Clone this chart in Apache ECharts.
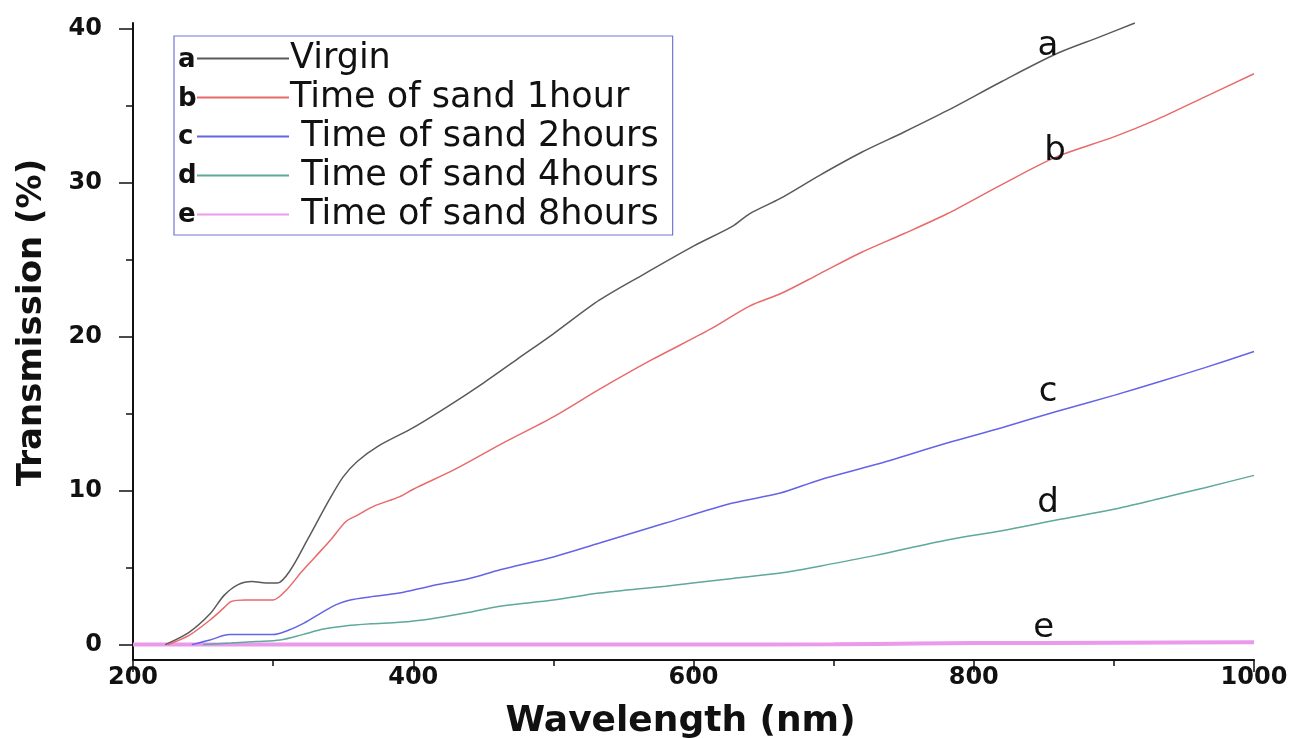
<!DOCTYPE html>
<html>
<head>
<meta charset="utf-8">
<script src="https://cdn.jsdelivr.net/npm/echarts@6/dist/echarts.min.js"></script>
<style>
  html, body { margin: 0; padding: 0; background: #fff; }
  #chart { width: 1292px; height: 738px; }
</style>
</head>
<body>
<div id="chart"></div>
<script>
// values
const waveA = [223, 240, 255, 265, 275, 285, 295, 303, 312, 325, 340, 350, 360, 375, 400, 425, 450, 475, 500, 533, 565, 600, 628, 640, 662, 690, 720, 750, 781, 820, 859, 890, 915];
const transA = [0, 0.8, 2.0, 3.2, 3.9, 4.1, 4.0, 4.0, 4.8, 6.9, 9.4, 10.9, 11.9, 12.9, 14.1, 15.5, 17.0, 18.6, 20.2, 22.4, 24.1, 25.9, 27.2, 28.0, 29.0, 30.5, 32.0, 33.3, 34.7, 36.6, 38.4, 39.5, 40.4];

const waveB = [225, 240, 255, 265, 270, 280, 290, 300, 310, 320, 330, 341, 352, 360, 372, 390, 400, 430, 462, 500, 533, 570, 612, 640, 662, 690, 720, 750, 781, 820, 859, 900, 930, 965, 1000];
const transB = [0, 0.6, 1.6, 2.4, 2.8, 2.9, 2.9, 2.9, 3.6, 4.7, 5.7, 6.8, 8.0, 8.4, 9.0, 9.6, 10.1, 11.4, 13.0, 14.8, 16.6, 18.5, 20.5, 22.0, 22.8, 24.1, 25.5, 26.7, 28.0, 29.9, 31.7, 33.0, 34.1, 35.6, 37.1];

const waveC = [242, 255, 269, 285, 300, 310, 322, 335, 345, 355, 369, 390, 412, 440, 462, 500, 533, 580, 628, 662, 690, 730, 781, 820, 859, 900, 933, 965, 1000];
const transC = [0, 0.3, 0.65, 0.65, 0.65, 0.9, 1.4, 2.1, 2.6, 2.9, 3.1, 3.35, 3.8, 4.3, 4.87, 5.7, 6.6, 7.9, 9.2, 9.85, 10.7, 11.7, 13.1, 14.1, 15.15, 16.2, 17.1, 18.0, 19.05];

const waveD = [250, 270, 288, 305, 321, 335, 350, 370, 390, 412, 440, 462, 500, 533, 580, 628, 662, 690, 730, 781, 820, 859, 900, 933, 965, 1000];
const transD = [0, 0.1, 0.2, 0.3, 0.65, 1.0, 1.2, 1.35, 1.45, 1.67, 2.1, 2.5, 2.9, 3.35, 3.8, 4.3, 4.65, 5.1, 5.8, 6.8, 7.4, 8.1, 8.8, 9.5, 10.2, 11.0];

const waveE = [200, 300, 400, 500, 600, 700, 760, 800, 900, 1000];
const transE = [0, 0, 0, 0, 0, 0.02, 0.08, 0.1, 0.12, 0.15];

const seriesNames = ["Virgin", "Time of sand 1hour", "Time of sand 2hours", "Time of sand 4hours", "Time of sand 8hours"];
const letters = ["a", "b", "c", "d", "e"];
const colors = ["#5a5a5a", "#e86a6a", "#6464e6", "#5fa89a", "#eb9aeb"];
const widths = [1.5, 1.5, 1.5, 1.5, 4];
// where the curve letters sit (wavelength, transmission)
const letterAt = [[853, 38.9], [858, 32.1], [853, 16.4], [853, 9.2], [850, 1.1]];

const yMajor = [0, 10, 20, 30, 40];
const yMinor = [5, 15, 25, 35];

const waves = [waveA, waveB, waveC, waveD, waveE];
const trans = [transA, transB, transC, transD, transE];

const font = "DejaVu Sans";

let myChart = echarts.init(document.getElementById("chart"));

let series = seriesNames.map(function (name, i) {
  return {
    name: name,
    type: "line",
    symbol: "none",
    smooth: 0.3,
    data: waves[i].map(function (w, j) { return [w, trans[i][j]]; }),
    lineStyle: { color: colors[i], width: widths[i] },
    itemStyle: { color: colors[i] },
    z: i === 4 ? 1 : 2,
    markPoint: {
      symbol: "circle",
      symbolSize: 1,
      itemStyle: { color: "rgba(0,0,0,0)" },
      label: {
        show: true,
        position: "inside",
        formatter: letters[i],
        color: "#111",
        fontSize: 34,
        fontFamily: font,
      },
      data: [{ coord: letterAt[i] }],
    },
  };
});

let option = {
  animation: false,
  backgroundColor: "#fff",
  grid: { left: 133, right: 38, top: 23, bottom: 78, outerBoundsMode: "none" },
  xAxis: {
    type: "value",
    min: 200,
    max: 1000,
    interval: 200,
    name: "Wavelength (nm)",
    nameLocation: "middle",
    nameGap: 44,
    nameTextStyle: {
      fontFamily: font,
      fontWeight: "bold",
      fontSize: 36,
      color: "#111",
      padding: [0, 26, 0, 0],
    },
    axisLine: { onZero: false, lineStyle: { color: "#111", width: 2 } },
    axisTick: { length: 12, lineStyle: { color: "#111", width: 1.5 } },
    minorTick: { show: true, splitNumber: 2, length: 6, lineStyle: { color: "#111", width: 1.5 } },
    axisLabel: {
      fontFamily: font, fontWeight: "bold", fontSize: 24, color: "#111", margin: 6,
      formatter: function (v) { return String(v); },
    },
    splitLine: { show: false },
  },
  yAxis: [
    {
      type: "value",
      min: -1,
      max: 40.4,
      name: "Transmission (%)",
      nameLocation: "middle",
      nameGap: 84,
      nameTextStyle: {
        fontFamily: font,
        fontWeight: "bold",
        fontSize: 34,
        color: "#111",
        padding: [0, 0, 0, 38],
      },
      axisLine: { show: true, onZero: false, lineStyle: { color: "#111", width: 2 } },
      axisTick: { length: 14, customValues: yMajor, lineStyle: { color: "#111", width: 1.5 } },
      axisLabel: { customValues: yMajor, fontFamily: font, fontWeight: "bold", fontSize: 24, color: "#111", margin: 31 },
      splitLine: { show: false },
    },
    {
      type: "value",
      min: -1,
      max: 40.4,
      position: "left",
      axisLine: { show: false, onZero: false },
      axisTick: { show: true, length: 7, customValues: yMinor, lineStyle: { color: "#111", width: 1.5 } },
      axisLabel: { show: false },
      splitLine: { show: false },
    },
  ],
  legend: {
    orient: "vertical",
    left: 174,
    top: 36,
    padding: [5, 14, 3, 23],
    borderColor: "#7575d5",
    borderWidth: 1.2,
    icon: "rect",
    itemWidth: 92,
    itemHeight: 2,
    itemGap: 4,
    data: seriesNames,
    formatter: function (name) {
      return seriesNames.indexOf(name) > 1 ? " " + name : name;
    },
    textStyle: { fontFamily: font, fontSize: 35, lineHeight: 31, color: "#111", padding: [0, 0, 0, -4] },
  },
  graphic: letters.map(function (l, i) {
    return {
      type: "text",
      x: 178,
      y: 60 + i * 38.75,
      style: {
        text: l,
        fill: "#111",
        font: "bold 26px DejaVu Sans",
        verticalAlign: "middle",
      },
    };
  }),
  series: series,
};

myChart.setOption(option);
</script>
</body>
</html>
